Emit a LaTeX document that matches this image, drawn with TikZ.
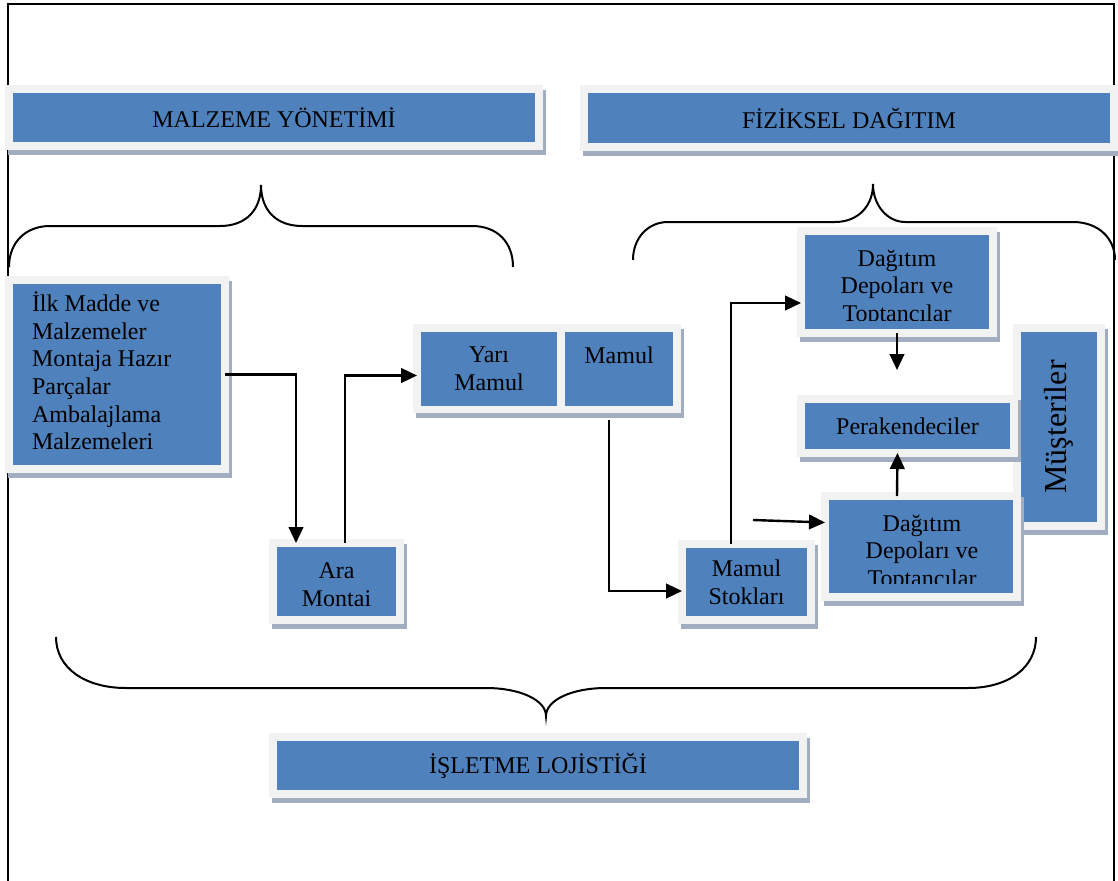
\documentclass[tikz,border=0pt]{standalone}
\usepackage{fontspec}
\setmainfont{Liberation Serif}
\usetikzlibrary{arrows.meta,calc,fit}
\definecolor{boxblue}{HTML}{4F81BD}
\definecolor{boxgray}{HTML}{F2F2F2}
\definecolor{shadowblue}{HTML}{A3ADC2}

\begin{document}
\begin{tikzpicture}[x=0.75pt,y=-0.75pt,
    every node/.style={inner sep=0pt, outer sep=0pt},
    box/.style={draw=boxgray, line width=6pt, fill=boxblue,
        preaction={draw=shadowblue, fill=shadowblue, line width=6pt,
            transform canvas={shift={(2.25pt,-3.75pt)}}}},
    panel/.style={fill=boxblue},
    txt/.style={align=center, font=\fontsize{18}{20.7}\selectfont},
    flow/.style={draw, line width=1.8pt, -{Triangle[length=12pt,width=11pt]}},
    brace/.style={draw, line width=1.5pt},
    frame/.style={draw, line width=2pt}]
    \useasboundingbox (0,0) rectangle (1118,881);

    \draw[frame] (8,881) -- (8,4) -- (1114,4) -- (1114,881);

    \draw[brace] (9,267) .. controls (9,242) and (26,226) .. (50,226) -- (220,226)
        .. controls (246,226) and (261,210) .. (261,185)
        .. controls (261,210) and (276,226) .. (302,226) -- (472,226)
        .. controls (497,226) and (513,242) .. (513,267);
    \draw[brace] (633,260) .. controls (633,238) and (648,222) .. (668,222) -- (835,222)
        .. controls (858,222) and (873,206) .. (873,184)
        .. controls (873,206) and (888,222) .. (905,222) -- (1073,222)
        .. controls (1098,222) and (1115,238) .. (1115,260);
    \draw[brace] (56,637) .. controls (56,668) and (85,688) .. (126,688) -- (486,688)
        .. controls (520,688) and (546,700) .. (546,716)
        .. controls (546,700) and (572,688) .. (606,688) -- (968,688)
        .. controls (1008,688) and (1036,668) .. (1036,637);

    \node[box, fit={(9,89) (539,146)}] (malz) {};
    \node[txt] (malztxt) at (malz.center) {MALZEME YÖNETİMİ};
    \node[box, fit={(584,89) (1114,147)}] (fiz) {};
    \node[txt] (fiztxt) at (fiz.center) {FİZİKSEL DAĞITIM};
    \node[box, fit={(9,280) (225,469)}] (ilk) {};
    \node[txt, align=left, anchor=west] (ilktxt) at (32,371)
        {İlk Madde ve\\Malzemeler\\Montaja Hazır\\Parçalar\\Ambalajlama\\Malzemeleri};
    \node[box, fit={(273,543) (400,620)}] (ara) {};
    \node[txt] (aratxt) at ($(ara.center)+(0,3)$) {Ara\\Montai};
    \node[box, fill=boxgray, fit={(417,328) (677,409)}] (ym) {};
    \node[panel, fit={(421,332) (557,406)}] (yari) {};
    \node[txt] (yaritxt) at (yari.center) {Yarı\\Mamul};
    \node[panel, fit={(565,332) (673,406)}] (mamul) {};
    \node[txt, anchor=base] (mamultxt) at (619,363) {Mamul};
    \node[box, fit={(682,544) (811,620)}] (stok) {};
    \node[txt] (stoktxt) at (stok.center) {Mamul\\Stokları};
    \node[box, fit={(1017,328) (1101,526)}] (mus) {};
    \node[txt, font=\fontsize{24}{28}\selectfont, rotate=90] (mustxt) at (mus.center) {Müşteriler};
    \node[box, fit={(801,399) (1014,453)}] (per) {};
    \node[txt] (pertxt) at (per.center) {Perakendeciler};
    \node[box, fit={(825,496) (1017,597)}] (dd2) {};
    \node[box, fit={(801,231) (993,333)}] (dd1) {};
    \begin{scope}
        \clip (801,231) rectangle (993,320);
        \node[txt] (dd1txt) at (897,288) {Dağıtım\\Depoları ve\\Toptancılar};
    \end{scope}
    \begin{scope}
        \clip (825,496) rectangle (1017,583);
        \node[txt] (dd2txt) at (922,553) {Dağıtım\\Depoları ve\\Toptancılar};
    \end{scope}
    \node[box, fit={(273,737) (803,794)}] (islet) {};
    \node[txt] (islettxt) at (islet.center) {İŞLETME LOJİSTİĞİ};

    \coordinate (perdrop) at ($(dd1.south)+(0,37)$);
    \coordinate (dd2in) at (753,520);

    \draw[flow] (ilk.east) -| ($(ara.north west)+(23,0)$);
    \draw[flow] ($(ara.north west)+(72,0)$) |- ($(ym.west)+(0,7)$);
    \draw[flow] ($(mamul.south)+(-10,14)$) |- ($(stok.west)+(0,9)$);
    \draw[flow] ($(stok.north west)+(49,0)$) |- ($(dd1.west)+(0,21)$);
    \draw[flow] (dd1.south) -- (perdrop);
    \draw[flow] ($(dd2.north)+(-24,0)$) -- ($(per.south)+(-10,0)$);
    \draw[flow] (dd2in) -- ($(dd2.west)+(0,-24)$);
\end{tikzpicture}
\end{document}
